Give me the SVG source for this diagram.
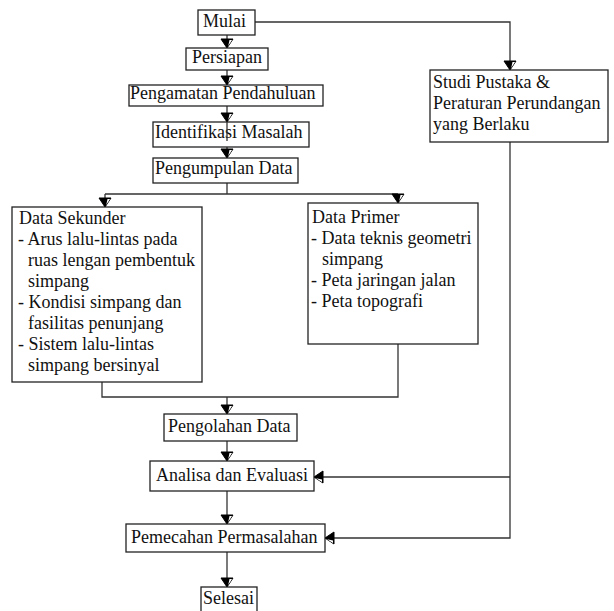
<svg xmlns="http://www.w3.org/2000/svg" width="614" height="611" viewBox="0 0 614 611">
<style>
.box{fill:#fff;stroke:#222;stroke-width:1.3}
.t{font-family:"Liberation Serif","Times New Roman",serif;font-size:18px;fill:#111}
.c{fill:none;stroke:#333;stroke-width:1.3}
.a{marker-end:url(#arr)}
</style>
<defs>
<marker id="arr" markerUnits="userSpaceOnUse" markerWidth="14" markerHeight="14" viewBox="-11 -7 14 14" refX="0" refY="0" orient="auto" overflow="visible">
<polygon points="0,0 -9,-6 -9,6" fill="#000" stroke="#000" stroke-width="1"/>
<polygon points="-2,-1.2 -8,-5 -8,-2.5" fill="#fff"/>
</marker>
</defs>
<rect width="614" height="611" fill="#fff"/>
<g id="connectors">
<path class="c a" d="M227,35 V48"/>
<path class="c a" d="M227,70 V85"/>
<path class="c a" d="M227,106 V122"/>
<path class="c a" d="M227,147 V158"/>
<path class="c" d="M227,183 V194 M105,194 H398"/>
<path class="c a" d="M105,194 V207"/>
<path class="c a" d="M398,194 V203"/>
<path class="c a" d="M255,22 H510 V70"/>
<path class="c" d="M102,382 V397 H398 V344"/>
<path class="c a" d="M227,397 V414"/>
<path class="c a" d="M227,441 V461"/>
<path class="c a" d="M227,487 V524"/>
<path class="c a" d="M227,552 V587"/>
<path class="c a" d="M510,142 V538 H325"/>
<path class="c a" d="M510,477 H314"/>
</g>
<g id="mulai"><rect class="box" x="198" y="10" width="57" height="25"/><text class="t" x="203" y="27">Mulai</text></g>
<g id="persiapan"><rect class="box" x="186" y="48" width="82" height="22"/><text class="t" x="192" y="63">Persiapan</text></g>
<g id="pengamatan"><rect class="box" x="129" y="85" width="194" height="21"/><text class="t" x="130" y="99">Pengamatan Pendahuluan</text></g>
<g id="identifikasi"><rect class="box" x="153" y="122" width="156" height="25"/><text class="t" x="155" y="138">Identifikasi Masalah</text><path class="c" d="M227,122 V141"/></g>
<g id="pengumpulan"><rect class="box" x="153" y="158" width="145" height="25"/><text class="t" x="155" y="174">Pengumpulan Data</text></g>
<g id="studi"><rect class="box" x="430" y="70" width="178" height="72"/>
<text class="t" x="433" y="88">Studi Pustaka &amp;</text>
<text class="t" x="433" y="109">Peraturan Perundangan</text>
<text class="t" x="433" y="130">yang Berlaku</text></g>
<g id="data-sekunder"><rect class="box" x="12" y="207" width="190" height="175"/>
<text class="t" x="19" y="224">Data Sekunder</text>
<text class="t" x="18" y="245">- Arus lalu-lintas pada</text>
<text class="t" x="28" y="266">ruas lengan pembentuk</text>
<text class="t" x="28" y="287">simpang</text>
<text class="t" x="18" y="308">- Kondisi simpang dan</text>
<text class="t" x="28" y="329">fasilitas penunjang</text>
<text class="t" x="18" y="350">- Sistem lalu-lintas</text>
<text class="t" x="28" y="371">simpang bersinyal</text></g>
<g id="data-primer"><rect class="box" x="308" y="203" width="170" height="141"/>
<text class="t" x="312" y="223">Data Primer</text>
<text class="t" x="311" y="244">- Data teknis geometri</text>
<text class="t" x="322" y="265">simpang</text>
<text class="t" x="311" y="286">- Peta jaringan jalan</text>
<text class="t" x="311" y="307">- Peta topografi</text></g>
<g id="pengolahan"><rect class="box" x="164" y="414" width="133" height="27"/><text class="t" x="168" y="432">Pengolahan Data</text></g>
<g id="analisa"><rect class="box" x="150" y="461" width="164" height="30"/><text class="t" x="156" y="481">Analisa dan Evaluasi</text></g>
<g id="pemecahan"><rect class="box" x="126" y="524" width="199" height="28"/><text class="t" x="131" y="543">Pemecahan Permasalahan</text></g>
<g id="selesai"><rect class="box" x="201" y="587" width="56" height="30"/><text class="t" x="203" y="604">Selesai</text></g>
</svg>
